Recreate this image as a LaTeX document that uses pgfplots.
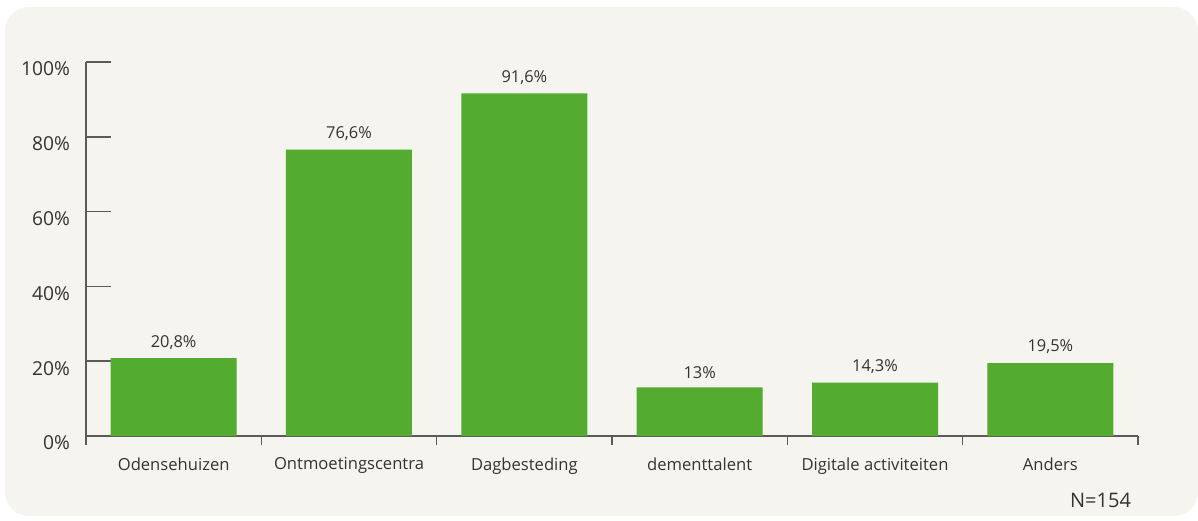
\documentclass[border=0pt]{standalone}
\usepackage{pgfplots}
\pgfplotsset{compat=1.18}
\usepackage{fontspec}
\setmainfont{Open Sans}
\definecolor{cardbg}{HTML}{F5F4EE}
\definecolor{barg}{HTML}{53AB2F}
\definecolor{axgray}{HTML}{5A5A5A}
\definecolor{txt}{HTML}{333333}
\begin{document}
\begin{tikzpicture}
  \useasboundingbox (0pt,0pt) rectangle (599pt,260pt);
  % page and card
  \fill[white] (0pt,0pt) rectangle (599pt,260pt);
  \fill[cardbg, rounded corners=12pt] (2.5pt,2pt) rectangle (599pt,256.5pt);
  \begin{axis}[
    at={(86.83pt,42pt)}, anchor=origin,
    scale only axis, width=526pt, height=187pt,
    ymin=0, ymax=100, xmin=-0.5, xmax=5.5,
    axis lines=left, axis line style={-, axgray, line width=0.8pt},
    ytick={0,20,...,100},
    yticklabel={\pgfmathprintnumber{\tick}\%},
    yticklabel style={font=\fontsize{9.6}{12}\selectfont, text=txt, yshift=-3.5pt, xshift=-4.5pt},
    /pgf/number format/assume math mode=true,
    tick align=inside,
    ytick style={axgray, line width=0.8pt, /pgfplots/major tick length=12.5pt},
    xtick={0,1,2,3,4,5},
    xticklabels={Odensehuizen,Ontmoetingscentra,Dagbesteding,dementtalent,Digitale activiteiten,Anders},
    xticklabel style={font=\fontsize{8.3}{10}\selectfont, text=txt, yshift=-3pt},
    xtick style={/pgfplots/major tick length=0pt},
    minor xtick={-0.5,0.5,...,5.5},
    minor x tick style={axgray, line width=0.8pt, /pgfplots/minor tick length=4.5pt},
    ybar, bar width=63pt,
    nodes near coords,
    point meta=explicit symbolic,
    every node near coord/.append style={font=\fontsize{8.2}{10}\selectfont, text=txt, yshift=1pt},
    clip=false,
  ]
    \addplot[fill=barg, draw=none] coordinates {
      (0,20.8) [20,8\%]
      (1,76.6) [76,6\%]
      (2,91.6) [91,6\%]
      (3,13.0) [13\%]
      (4,14.3) [14,3\%]
      (5,19.5) [19,5\%]
    };
  \end{axis}
  \node[anchor=east, text=txt, font=\fontsize{10}{12}\selectfont] at (569pt,10pt) {N=154};
\end{tikzpicture}
\end{document}
